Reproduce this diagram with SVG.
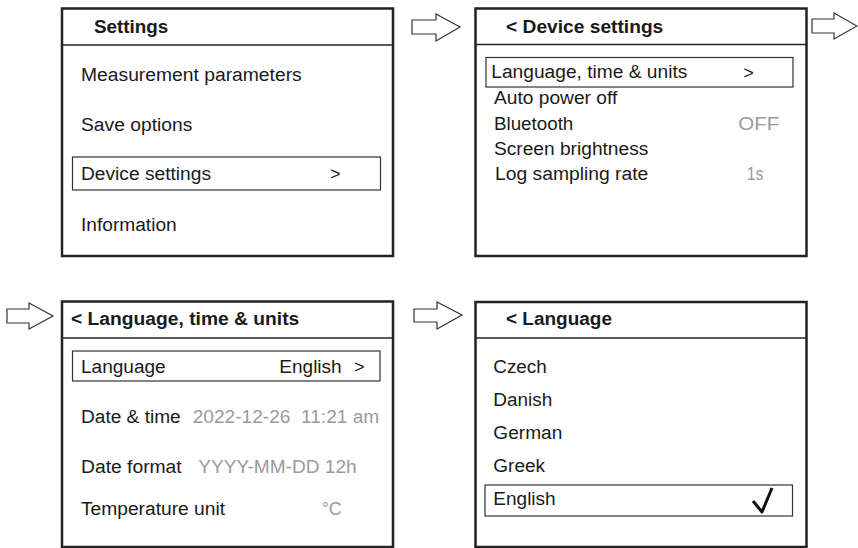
<svg xmlns="http://www.w3.org/2000/svg" width="858" height="548" viewBox="0 0 858 548">
<style>
.frame{fill:#fff;stroke:#222;stroke-width:2.5}
.div{stroke:#222;stroke-width:1.5}
.hl{fill:none;stroke:#333;stroke-width:1.2}
.arrow{fill:#fff;stroke:#333;stroke-width:1.2;stroke-linejoin:miter}
text{font-family:"Liberation Sans",Arial,Helvetica,sans-serif;font-size:18px;fill:#1a1a1a}
.t{font-weight:bold}
.g{fill:#9a9a9a}
</style>
<rect width="858" height="548" fill="#fff"/>
<g id="connectors">
<polygon class="arrow" points="412,20 436,20 436,14 460,27 436,41 436,34 412,34"/>
<polygon class="arrow" points="812,19 834,19 834,13 857,26 834,39 834,33 812,33"/>
<polygon class="arrow" points="7,309 29,309 29,303 53,316 29,329 29,323 7,323"/>
<polygon class="arrow" points="414,309 437,309 437,302 462,315 437,329 437,322 414,322"/>
</g>
<g id="settings">
<rect class="frame" x="62" y="8.5" width="331" height="247.5"/>
<line class="div" x1="62" y1="45" x2="393" y2="45"/>
<text class="t" x="94" y="33.3" textLength="74.3" lengthAdjust="spacingAndGlyphs">Settings</text>
<text x="81" y="81" textLength="220.7" lengthAdjust="spacingAndGlyphs">Measurement parameters</text>
<text x="81" y="131" textLength="111.3" lengthAdjust="spacingAndGlyphs">Save options</text>
<rect class="hl" x="72.5" y="157" width="308" height="33"/>
<text x="81" y="180" textLength="130" lengthAdjust="spacingAndGlyphs">Device settings</text>
<text x="330" y="180">&gt;</text>
<text x="81" y="230.5" textLength="95.7" lengthAdjust="spacingAndGlyphs">Information</text>
</g>
<g id="device-settings">
<rect class="frame" x="475.5" y="8.5" width="331" height="247.5"/>
<line class="div" x1="475.5" y1="44.5" x2="806.5" y2="44.5"/>
<text class="t" x="506" y="33.3" textLength="157.3" lengthAdjust="spacingAndGlyphs">&lt; Device settings</text>
<rect class="hl" x="486" y="57.5" width="307" height="29.5"/>
<text x="491.3" y="77.7" textLength="196" lengthAdjust="spacingAndGlyphs">Language, time &amp; units</text>
<text x="743.3" y="79">&gt;</text>
<text x="494" y="104.3" textLength="123.3" lengthAdjust="spacingAndGlyphs">Auto power off</text>
<text x="494" y="130" textLength="79.3" lengthAdjust="spacingAndGlyphs">Bluetooth</text>
<text class="g" x="738.3" y="130" textLength="41" lengthAdjust="spacingAndGlyphs">OFF</text>
<text x="494" y="155" textLength="154.3" lengthAdjust="spacingAndGlyphs">Screen brightness</text>
<text x="495" y="180" textLength="153.3" lengthAdjust="spacingAndGlyphs">Log sampling rate</text>
<text class="g" x="746.7" y="180" textLength="16.7" lengthAdjust="spacingAndGlyphs">1s</text>
</g>
<g id="language-time-units">
<rect class="frame" x="62" y="301.5" width="331" height="245.5"/>
<line class="div" x1="62" y1="338" x2="393" y2="338"/>
<text class="t" x="71" y="325" textLength="228.3" lengthAdjust="spacingAndGlyphs">&lt; Language, time &amp; units</text>
<rect class="hl" x="72.5" y="351" width="307.5" height="30"/>
<text x="81" y="373.3" textLength="84.7" lengthAdjust="spacingAndGlyphs">Language</text>
<text x="279.3" y="373.3" textLength="62.4" lengthAdjust="spacingAndGlyphs">English</text>
<text x="354" y="373.3">&gt;</text>
<text x="81" y="422.7" textLength="99.7" lengthAdjust="spacingAndGlyphs">Date &amp; time</text>
<text class="g" x="192.7" y="422.7" textLength="186.6" lengthAdjust="spacingAndGlyphs" xml:space="preserve">2022-12-26  11:21 am</text>
<text x="81" y="472.7" textLength="100.7" lengthAdjust="spacingAndGlyphs">Date format</text>
<text class="g" x="198.3" y="472.7" textLength="158.4" lengthAdjust="spacingAndGlyphs">YYYY-MM-DD 12h</text>
<text x="81" y="515" textLength="144" lengthAdjust="spacingAndGlyphs">Temperature unit</text>
<text class="g" x="321.7" y="515" textLength="20" lengthAdjust="spacingAndGlyphs">°C</text>
</g>
<g id="language">
<rect class="frame" x="475.5" y="302" width="331" height="245"/>
<line class="div" x1="475.5" y1="338" x2="806.5" y2="338"/>
<text class="t" x="506" y="325" textLength="106" lengthAdjust="spacingAndGlyphs">&lt; Language</text>
<text x="493.3" y="373.3" textLength="53.4" lengthAdjust="spacingAndGlyphs">Czech</text>
<text x="493.3" y="406" textLength="59" lengthAdjust="spacingAndGlyphs">Danish</text>
<text x="493.3" y="439.3" textLength="69" lengthAdjust="spacingAndGlyphs">German</text>
<text x="493.3" y="472.3" textLength="51.7" lengthAdjust="spacingAndGlyphs">Greek</text>
<rect class="hl" x="485" y="485" width="307.5" height="31"/>
<text x="493.3" y="505" textLength="62.4" lengthAdjust="spacingAndGlyphs">English</text>
<path d="M753,501 L762,512 L772,488" fill="none" stroke="#111" stroke-width="3" stroke-linejoin="round"/>
</g>
</svg>
